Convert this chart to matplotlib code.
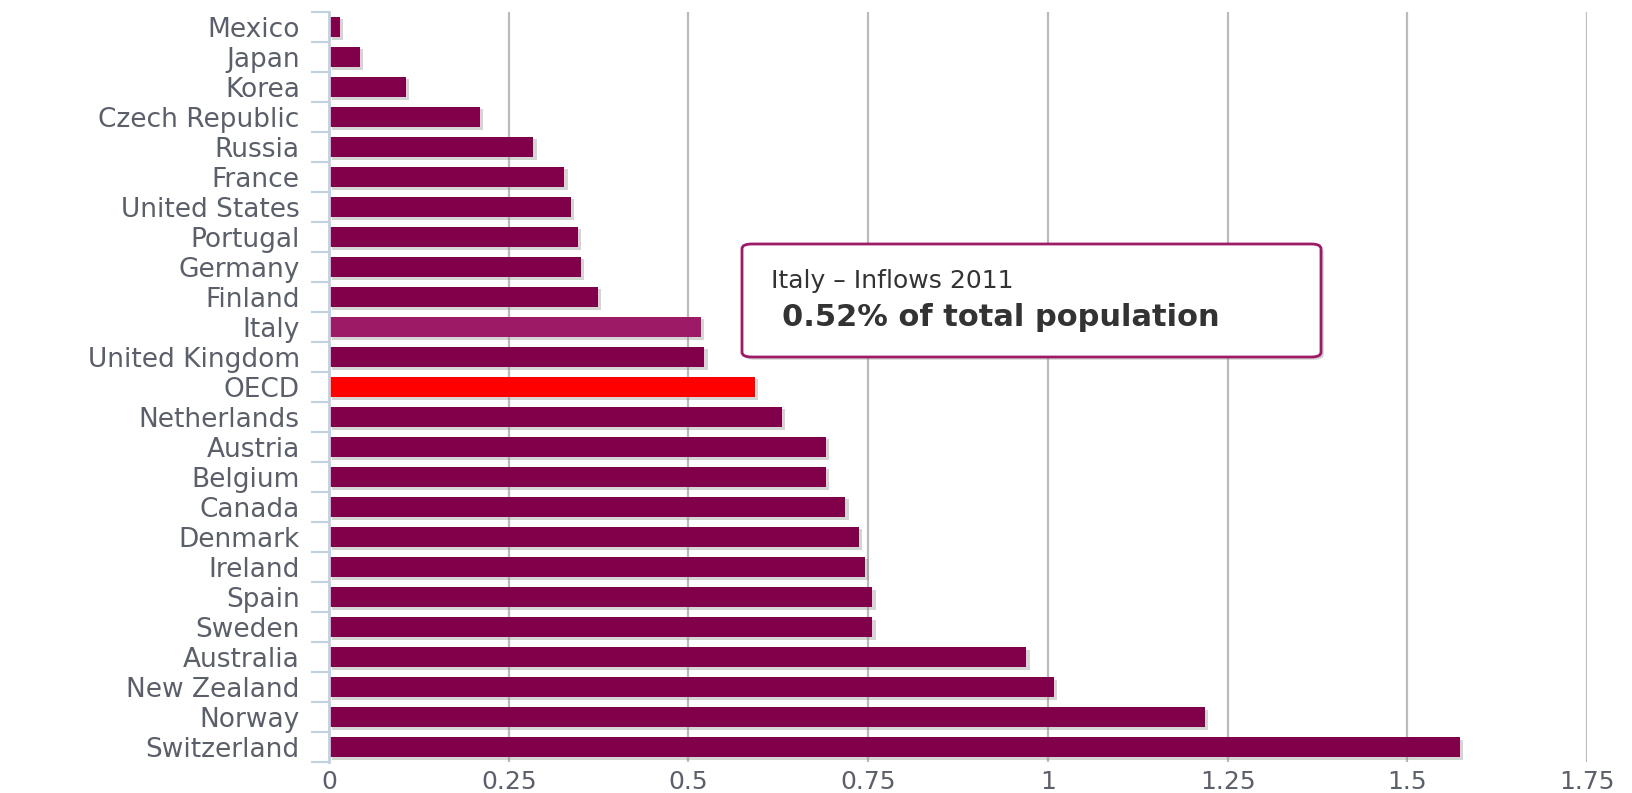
import matplotlib
matplotlib.use("Agg")
import matplotlib.pyplot as plt
import matplotlib.patheffects as pe
from matplotlib.patches import FancyBboxPatch
from matplotlib.ticker import FixedLocator

countries = ["Mexico", "Japan", "Korea", "Czech Republic", "Russia", "France",
             "United States", "Portugal", "Germany", "Finland", "Italy",
             "United Kingdom", "OECD", "Netherlands", "Austria", "Belgium",
             "Canada", "Denmark", "Ireland", "Spain", "Sweden", "Australia",
             "New Zealand", "Norway", "Switzerland"]
values = [0.015, 0.043, 0.107, 0.21, 0.284, 0.327, 0.336, 0.346, 0.35, 0.374,
          0.517, 0.522, 0.592, 0.63, 0.691, 0.691, 0.718, 0.737, 0.746, 0.756,
          0.756, 0.970, 1.008, 1.218, 1.573]
xticks = [0, 0.25, 0.5, 0.75, 1, 1.25, 1.5, 1.75]
xticklabels = ["0", "0.25", "0.5", "0.75", "1", "1.25", "1.5", "1.75"]
highlight = "Italy"
reference = "OECD"
tooltip_title = "Italy – Inflows 2011"
tooltip_value = "0.52% of total population"

base_color = "#80004A"
hl_color = "#9C1A66"
ref_color = "#FF0000"

fig = plt.figure(figsize=(16.33, 7.93), dpi=100)
ax = fig.add_axes([329/1633, 1 - 762/793, (1587-329)/1633, (762-11.7)/793])

colors = []
for c in countries:
    if c == highlight:
        colors.append(hl_color)
    elif c == reference:
        colors.append(ref_color)
    else:
        colors.append(base_color)

ypos = list(range(len(countries)))
bars = ax.barh(ypos, values, height=0.68, color=colors, zorder=3)
for b in bars:
    b.set_path_effects([pe.SimplePatchShadow(offset=(2.5, -2), shadow_rgbFace="#888888", alpha=0.35),
                        pe.Normal()])

ax.set_xlim(0, 1.75)
ax.set_ylim(len(countries) - 0.5, -0.5)
ax.set_xticks(xticks)
ax.set_xticklabels(xticklabels)
ax.set_yticks(ypos)
ax.set_yticklabels(countries)
ax.yaxis.set_minor_locator(FixedLocator([i - 0.5 for i in range(len(countries) + 1)]))

ax.grid(axis="x", color="#BBBBBB", linewidth=1.6, zorder=0)
ax.set_axisbelow(True)
for s in ["top", "right", "bottom"]:
    ax.spines[s].set_visible(False)
ax.spines["left"].set_color("#C0D0E0")
ax.spines["left"].set_linewidth(2)
ax.spines["left"].set_zorder(4)

label_color = "#5A5F6A"
ax.tick_params(axis="y", which="major", length=0, pad=21, labelsize=19, labelcolor=label_color)
ax.tick_params(axis="y", which="minor", length=13, width=1.5, color="#C0D0E0")
ax.tick_params(axis="x", which="major", length=0, pad=6, labelsize=18, labelcolor=label_color)
for t in ax.get_xticklabels() + ax.get_yticklabels():
    t.set_fontfamily("DejaVu Sans")

# tooltip
box = FancyBboxPatch((742/1633, 1 - 357/793), (1321-742)/1633, (357-244)/793,
                     boxstyle="round,pad=0,rounding_size=0.006", transform=fig.transFigure,
                     facecolor="white", edgecolor="#9C1A66", linewidth=2, zorder=10)
box.set_path_effects([pe.SimplePatchShadow(offset=(2, -2), shadow_rgbFace="#888888", alpha=0.35),
                      pe.Normal()])
fig.patches.append(box)
fig.text(771/1633, 1 - 281/793, tooltip_title, fontsize=18, color="#333333",
         va="center", ha="left", zorder=11)
fig.text(782/1633, 1 - 318/793, tooltip_value, fontsize=22, fontweight="bold",
         color="#333333", va="center", ha="left", zorder=11)

fig.savefig("out.png", dpi=100)
